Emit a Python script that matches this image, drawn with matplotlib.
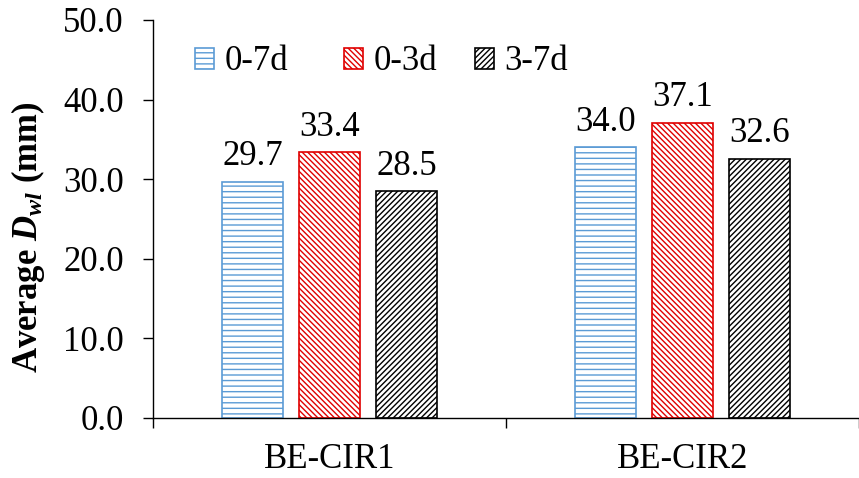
import numpy as np
import matplotlib
matplotlib.use('Agg')
import matplotlib.pyplot as plt

plt.rcParams['font.family'] = ['Liberation Serif', 'DejaVu Serif']
plt.rcParams['mathtext.fontset'] = 'custom'
plt.rcParams['mathtext.rm'] = 'Liberation Serif'
plt.rcParams['mathtext.it'] = 'Liberation Serif:italic'
plt.rcParams['mathtext.bf'] = 'Liberation Serif:bold'
plt.rcParams['mathtext.bfit'] = 'Liberation Serif:italic:bold'
plt.rcParams['hatch.linewidth'] = 1.0

categories = ['BE-CIR1', 'BE-CIR2']
series_names = ['0-7d', '0-3d', '3-7d']
values_07d = [29.7, 34.0]
values_03d = [33.4, 37.1]
values_37d = [28.5, 32.6]

colors = ['#5B9BD5', '#E00000', '#000000']
hatches = ['---', '\\\\\\\\\\\\', '//////']

fig = plt.figure(figsize=(8.59, 4.78), dpi=100)
ax = fig.add_axes([153 / 859, 60 / 478, 1 - 153 / 859, 398 / 478])

x = np.arange(len(categories))
width = 0.174
step = 0.218
fs = 25

handles = []
for i, (name, vals) in enumerate(zip(series_names, [values_07d, values_03d, values_37d])):
    bars = ax.bar(x + (i - 1) * step, vals, width, facecolor='white',
                  edgecolor=colors[i], hatch=hatches[i], linewidth=1.2, label=name)
    handles.append(bars)
    for b, v in zip(bars, vals):
        ax.annotate(f'{v:.1f}', (b.get_x() + b.get_width() / 2, v),
                    xytext=(0, 6), textcoords='offset points',
                    ha='center', va='bottom', fontsize=fs)

ax.set_ylim(0, 50)
ax.set_yticks(np.arange(0, 51, 10))
ax.set_yticklabels([f'{t:.1f}' for t in np.arange(0, 51, 10)], fontsize=fs)
ax.set_xlim(-0.5, -0.5 + (859 - 153) / 357)
ax.set_xticks(x)
ax.set_xticklabels(categories, fontsize=fs)
ax.set_xticks([-0.5, 0.5, 1.5], minor=True)
ax.tick_params(axis='x', which='major', length=0, pad=18)
ax.tick_params(axis='x', which='minor', length=7, width=1, direction='out')
ax.tick_params(axis='y', length=7, width=1, direction='out', pad=14)

for s in ['top', 'right']:
    ax.spines[s].set_visible(False)
for s in ['left', 'bottom']:
    ax.spines[s].set_linewidth(1)

fig.text(28 / 859, 1 - 237 / 478, r'Average $\mathbfit{D}_{\mathbfit{wl}}$ (mm)',
         rotation=90, ha='center', va='center', fontsize=fs, fontweight='bold')

leg_kw = dict(bbox_transform=fig.transFigure, frameon=False, fontsize=fs,
              handlelength=0.55, handleheight=0.55, handletextpad=0.3,
              columnspacing=1.6, borderpad=0, borderaxespad=0, loc='center left')
leg1 = ax.legend(handles[:2], series_names[:2], ncol=2,
                 bbox_to_anchor=(195 / 859, 1 - 62 / 478), **leg_kw)
ax.add_artist(leg1)
ax.legend(handles[2:], series_names[2:], ncol=1,
          bbox_to_anchor=(475 / 859, 1 - 62 / 478), **leg_kw)

fig.savefig('out.png', dpi=100)
